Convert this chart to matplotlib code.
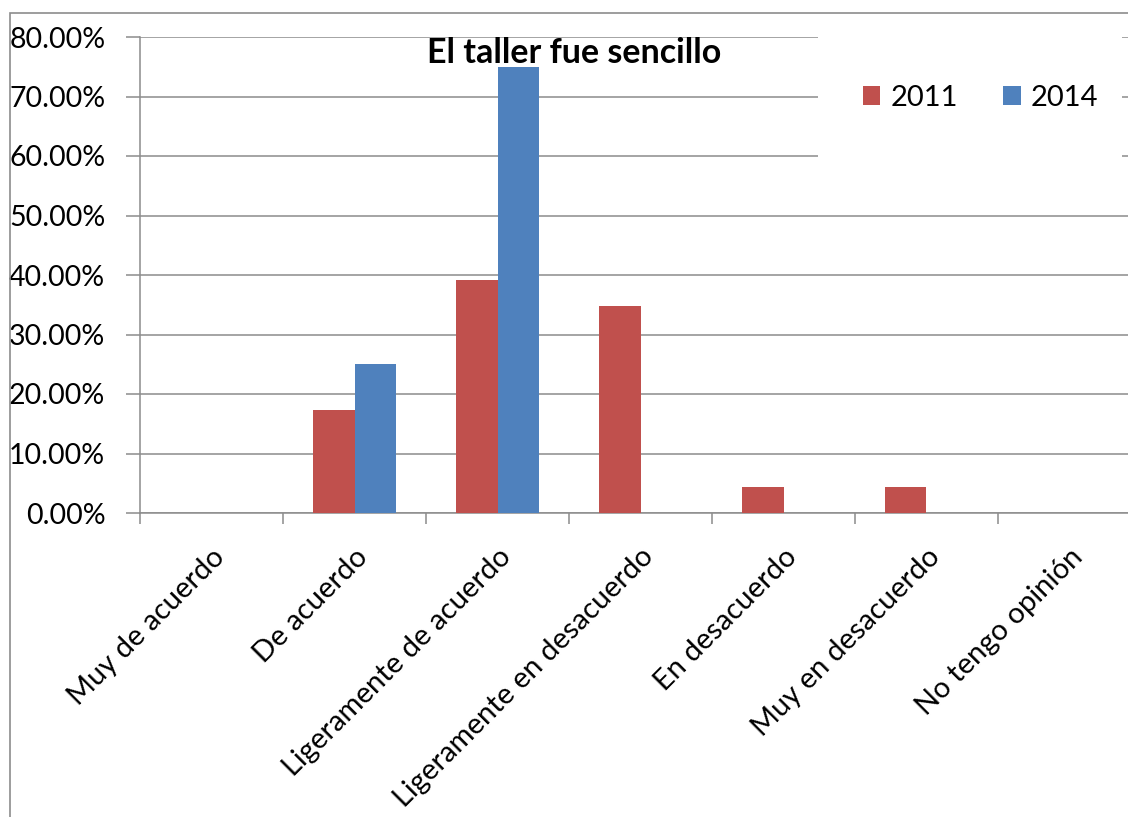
import matplotlib
matplotlib.use("Agg")
import matplotlib.pyplot as plt
from matplotlib.patches import Rectangle
import numpy as np

categories = ["Muy de acuerdo", "De acuerdo", "Ligeramente de acuerdo",
              "Ligeramente en desacuerdo", "En desacuerdo", "Muy en desacuerdo",
              "No tengo opinión"]
series_2011 = [0.0, 0.1739, 0.3913, 0.3478, 0.0435, 0.0435, 0.0]
series_2014 = [0.0, 0.25, 0.75, 0.0, 0.0, 0.0, 0.0]
series_names = ["2011", "2014"]
colors = ["#C0504D", "#4F81BD"]
title = "El taller fue sencillo"
yticks = [0.0, 0.1, 0.2, 0.3, 0.4, 0.5, 0.6, 0.7, 0.8]

plt.rcParams['font.family'] = ['Lato', 'DejaVu Sans']

W, H = 1128, 817
fig = plt.figure(figsize=(W / 100, H / 100), dpi=100)
fig.patch.set_facecolor("white")

# outer chart border (extends past right/bottom edges)
fig.patches.append(Rectangle((10 / W, -0.1), 1.2, (H - 13) / H + 0.1,
                             transform=fig.transFigure, fill=False,
                             edgecolor="#8c8c8c", linewidth=1.2))

left, right, top, bottom = 140, 1141, 37, 513
ax = fig.add_axes([left / W, (H - bottom) / H, (right - left) / W, (bottom - top) / H])
ax.set_facecolor("none")

x = np.arange(len(categories))
bw = 0.287
ax.bar(x - bw / 2, series_2011, width=bw, color=colors[0], label=series_names[0], zorder=3)
ax.bar(x + bw / 2, series_2014, width=bw, color=colors[1], label=series_names[1], zorder=3)

ax.set_xlim(-0.5, len(categories) - 0.5)
ax.set_ylim(0, 0.8)
ax.set_yticks(yticks)
ax.set_yticklabels([f"{v*100:.2f}%" for v in yticks], fontsize=20.5)
ax.yaxis.grid(True, color="#8c8c8c", linewidth=1.1, zorder=0)
ax.set_axisbelow(True)

ax.set_xticks(x)
ax.set_xticklabels(categories, rotation=45, ha="right", va="top",
                   rotation_mode="anchor", fontsize=21)
ax.tick_params(axis="x", which="major", length=0, pad=22)
ax.set_xticks(np.arange(-0.5, len(categories) + 0.5, 1), minor=True)
ax.tick_params(axis="x", which="minor", length=8, color="#8c8c8c", width=1.1)
ax.tick_params(axis="y", length=10, color="#8c8c8c", width=1.1, pad=15)

for s in ["top", "right"]:
    ax.spines[s].set_visible(False)
for s in ["left", "bottom"]:
    ax.spines[s].set_color("#8c8c8c")
    ax.spines[s].set_linewidth(1.1)

# title
fig.text(574 / W, 1 - 53 / H, title, ha="center", va="center",
         fontsize=24.5, fontweight="bold")

# legend area (white box covering gridlines)
fig.patches.append(Rectangle((818 / W, 1 - 185 / H), (1122 - 818) / W, (185 - 30) / H,
                             transform=fig.transFigure, facecolor="white",
                             edgecolor="none", zorder=5))
leg = fig.legend(loc="center left", bbox_to_anchor=(851 / W, 1 - 98 / H),
                 ncol=2, frameon=False, fontsize=21, handlelength=0.6,
                 handleheight=0.6, handletextpad=0.35, columnspacing=1.55,
                 borderaxespad=0)
leg.set_zorder(6)

fig.savefig("out.png", dpi=100)
